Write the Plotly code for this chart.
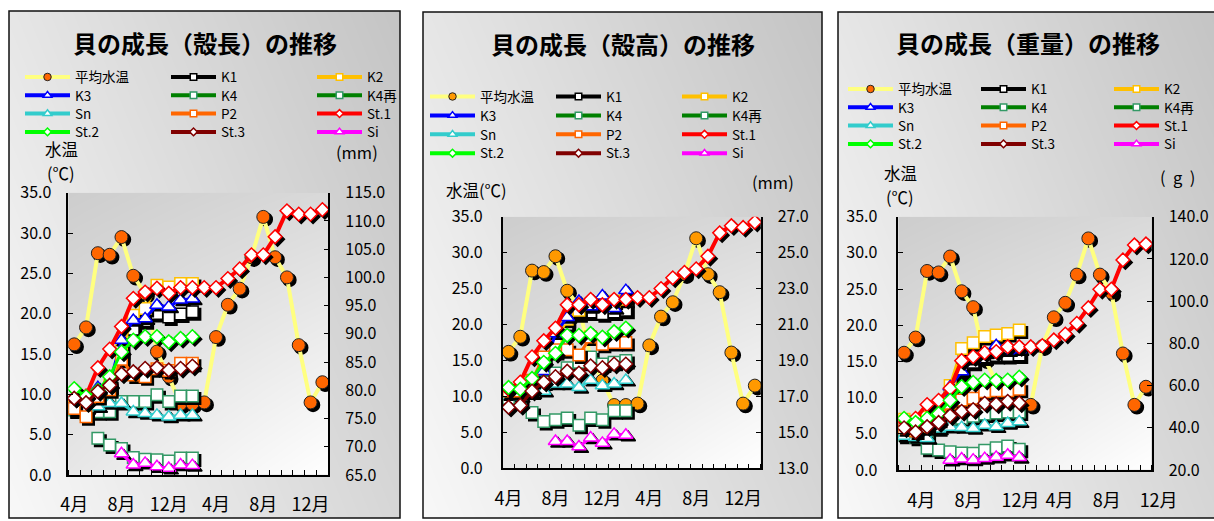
import numpy as np
import plotly.graph_objects as go

W, H = 1214, 521
FONT = "Noto Sans CJK JP"

# ---------------- data ----------------
month_idx = list(range(22))          # 4月 (1年目) ... 1月 (3年目)
x_tick_pos = [0, 4, 8, 12, 16, 20]
x_tick_text = ["4月", "8月", "12月", "4月", "8月", "12月"]
x_tick_pos_weight = [1.5, 5.6, 10.1, 13.5, 17.6, 22.1]

water_temp = [16.2, 18.3, 27.5, 27.3, 29.5, 24.7, 22.5, 15.3, 12.2, 8.8, 8.8,
              9.0, 17.1, 21.1, 23.1, 27.0, 32.0, 27.0, 24.5, 16.1, 9.0, 11.5]

# 殻長 (mm)
length_K1 = [77.0, 76.5, 78.5, 80.5, 86.0, 90.8, 92.3, 93.6, 93.0, 93.5, 93.9]
length_K2 = [77.5, 76.8, 79.2, 80.8, 87.0, 93.3, 94.5, 98.6, 98.3, 98.9, 98.9]
length_K3 = [77.8, 77.0, 80.5, 81.3, 88.9, 92.4, 92.7, 95.1, 94.8, 96.0, 96.2]
length_K4 = [76.5, 75.8, 76.2, 76.2, 78.0, 78.0, 78.0, 79.2, 78.0, 79.0, 79.0]
length_K4re = [None, None, 71.5, 70.3, 69.7, 68.1, 67.8, 67.7, 67.5, 68.0, 68.0]
length_Sn = [77.0, 76.8, 77.1, 77.7, 77.7, 76.2, 75.9, 75.6, 75.3, 75.6, 75.6]
length_P2 = [76.8, 75.3, 78.9, 80.1, 85.5, 82.7, 82.4, 83.8, 83.5, 84.8, 84.8]
length_St1 = [78.6, 79.0, 84.0, 87.3, 91.3, 96.3, 97.4, 98.1, 97.2, 98.2, 98.2,
              98.2, 98.2, 99.8, 101.5, 104.0, 104.0, 107.2, 111.8, 111.2, 111.2, 112.0]
length_St2 = [80.3, 78.9, 80.0, 82.4, 86.8, 88.9, 89.5, 89.5, 88.6, 89.2, 89.5]
length_St3 = [78.6, 77.8, 79.8, 80.9, 82.9, 83.3, 83.9, 84.0, 83.6, 83.9, 84.3]
length_Si = [None, None, None, None, 68.8, 66.8, 67.1, 66.5, 66.2, 66.8, 66.7]

# 殻高 (mm)
height_K1 = [16.8, 16.9, 17.6, 18.3, 19.5, 21.0, 21.6, 21.7, 21.6, 21.7, 21.8]
height_K2 = [17.0, 17.1, 17.8, 18.5, 20.0, 21.3, 21.8, 22.1, 22.2, 22.3, 22.4]
height_K3 = [17.0, 17.2, 17.8, 18.4, 20.5, 21.4, 22.3, 22.0, 22.6, 21.9, 22.9]
height_K4 = [16.9, 16.7, 17.3, 17.8, 18.3, 18.6, 18.9, 19.2, 18.8, 18.9, 19.0]
height_K4re = [None, None, 16.1, 15.6, 15.7, 15.8, 15.4, 15.8, 15.7, 16.2, 16.2]
height_Sn = [17.1, 17.0, 17.2, 17.3, 17.7, 17.7, 17.5, 17.9, 17.6, 17.7, 17.9]
height_P2 = [17.3, 17.3, 17.9, 19.2, 19.6, 19.6, 19.3, 20.3, 19.9, 20.0, 20.0]
height_St1 = [17.4, 17.8, 19.2, 20.1, 20.8, 22.1, 22.1, 22.4, 22.1, 22.4, 22.4,
              22.5, 22.5, 23.0, 23.6, 23.9, 24.1, 24.8, 26.1, 26.5, 26.4, 26.7]
height_St2 = [17.5, 17.4, 18.0, 18.9, 19.4, 20.4, 20.4, 20.5, 20.3, 20.6, 20.8]
height_St3 = [16.4, 16.5, 17.3, 17.8, 18.1, 18.4, 18.3, 18.7, 18.6, 18.8, 18.8]
height_Si = [None, None, None, None, 14.5, 14.5, 14.2, 14.7, 14.4, 14.9, 14.85]

# 重量 (g)
weight_K1 = [42.0, 41.5, 43.0, 46.0, 55.0, 66.0, 71.0, 73.5, 74.2, 74.2, 74.5]
weight_K2 = [44.0, 43.0, 45.0, 48.0, 60.0, 77.6, 80.3, 83.2, 84.0, 84.7, 86.3]
weight_K3 = [43.0, 42.0, 44.0, 47.0, 59.5, 66.6, 72.5, 75.5, 79.0, 76.5, 77.0]
weight_K4 = [36.5, 35.5, 37.0, 40.0, 43.0, 44.5, 45.5, 46.5, 47.0, 47.5, 47.5]
weight_K4re = [None, None, 30.3, 29.5, 28.7, 28.0, 27.9, 29.3, 30.5, 31.4, 29.8]
weight_Sn = [36.0, 35.5, 35.0, 39.5, 40.3, 40.2, 39.7, 41.3, 40.5, 42.1, 42.9]
weight_P2 = [40.0, 38.5, 40.5, 44.0, 51.6, 53.2, 54.0, 57.1, 57.6, 57.6, 58.2]
weight_St1 = [43.5, 44.5, 51.0, 53.0, 58.7, 71.8, 73.7, 75.6, 76.1, 78.4, 78.4,
              78.4, 78.9, 81.6, 84.4, 89.5, 96.9, 105.6, 105.7, 119.5, 126.6, 127.1]
weight_St2 = [44.5, 42.5, 44.5, 46.8, 53.0, 59.5, 61.5, 62.6, 62.4, 62.6, 64.0]
weight_St3 = [40.0, 38.0, 40.5, 42.5, 45.7, 47.8, 48.6, 51.6, 51.3, 52.5, 51.8]
weight_Si = [None, None, None, None, 24.7, 25.3, 24.8, 25.5, 26.1, 27.1, 26.0]

series_names = ["K1", "K2", "K3", "K4", "K4再", "Sn", "P2", "St.1", "St.2", "St.3", "Si"]
line_colors = ["#000000", "#ffc000", "#0000ff", "#008000", "#008000", "#33cccc",
               "#ff6600", "#ff0000", "#00ff00", "#800000", "#ff00ff"]
edge_colors = ["#000000", "#ffc000", "#0000ff", "#339966", "#339966", "#33cccc",
               "#ff6600", "#ff0000", "#00ff00", "#800000", "#ff00ff"]
symbols = ["square", "square", "triangle-up", "square", "square", "triangle-up",
           "square", "diamond", "diamond", "diamond", "triangle-up"]
plot_sizes = {"square": 11.5, "triangle-up": 12.5, "diamond": 10.5, "circle": 13}
legend_sizes = {"square": 6.5, "triangle-up": 7.5, "diamond": 6, "circle": 7.5}

length_data = [length_K1, length_K2, length_K3, length_K4, length_K4re, length_Sn,
               length_P2, length_St1, length_St2, length_St3, length_Si]
height_data = [height_K1, height_K2, height_K3, height_K4, height_K4re, height_Sn,
               height_P2, height_St1, height_St2, height_St3, height_Si]
weight_data = [weight_K1, weight_K2, weight_K3, weight_K4, weight_K4re, weight_Sn,
               weight_P2, weight_St1, weight_St2, weight_St3, weight_Si]

LEG_ITEMW = 45   # width of the legend symbol area
LEG_FONT = 13.5

# ---------------- panel geometry (pixels) ----------------
panels = [
    dict(title="貝の成長（殻長）の推移", data=length_data, temp_fill="#ff6600",
         box=(9, 11, 400, 518), area=(68.3, 192.7, 328.3, 475.0),
         rrange=(65, 115), rdtick=5, title_xy=(204.5, 43),
         legend_rows=[77.2, 95.5, 113.8, 132.1], text_x=75, col_gap=146,
         units=[("水温", 61, 149), ("(℃)", 61, 173), ("(mm)", 357, 152)],
         ls=(12, 12, 13)),
    dict(title="貝の成長（殻高）の推移", data=height_data, temp_fill="#ff9900",
         box=(423, 12, 822, 518), area=(502.7, 216.7, 760.7, 468.3),
         rrange=(13, 27), rdtick=2, title_xy=(623, 43.5),
         legend_rows=[96.7, 115.6, 134.5, 153.4], text_x=480, col_gap=126,
         units=[("水温(℃)", 476, 190), ("(mm)", 773, 182)],
         ls=(15, 12, 13)),
    dict(title="貝の成長（重量）の推移", data=weight_data, temp_fill="#ff6600",
         box=(838, 12, 1232, 518), area=(898.3, 216.7, 1151.7, 470.0),
         rrange=(20, 140), rdtick=20, title_xy=(1028, 42),
         legend_rows=[89.2, 107.5, 125.8, 144.1], text_x=898, col_gap=133,
         units=[("水温", 900, 173), ("(℃)", 900, 197),
                ("(\u00a0\u00a0g\u00a0\u00a0)", 1177, 177)],
         ls=(16, 12, 13)),
]

legend_order = [None, 0, 1, 2, 3, 4, 5, 6, 7, 8, 9, 10]   # None = 平均水温

fig = go.Figure()
layout = {}
annotations = []
shapes = []

GRAYS = [[0, "rgb(0,0,0)"], [1, "rgb(255,255,255)"]]
gx = np.linspace(0, 1, 40)
gy = np.linspace(0, 1, 40)
GX, GY = np.meshgrid(gx, gy)

for p, cfg in enumerate(panels):
    bx0, by0, bx1, by1 = cfg["box"]
    ax0, ay0, ax1, ay1 = cfg["area"]
    suf = "" if p == 0 else str(p + 1)

    # panel background gradient
    layout[f"xaxis{suf}"] = dict(domain=[bx0 / W, min(bx1 / W, 1.0)], range=[0, 1],
                                 visible=False, anchor=f"y{suf}", fixedrange=True)
    layout[f"yaxis{suf}"] = dict(domain=[1 - by1 / H, 1 - by0 / H], range=[0, 1],
                                 visible=False, anchor=f"x{suf}", fixedrange=True)
    fig.add_trace(go.Heatmap(x=gx, y=gy, z=248 - 34 * GX - 18 * GY,
                             colorscale=GRAYS, zmin=0, zmax=255, zsmooth="best",
                             showscale=False, hoverinfo="skip",
                             xaxis=f"x{suf}", yaxis=f"y{suf}"))
    shapes.append(dict(type="rect", xref="paper", yref="paper",
                       x0=bx0 / W, x1=bx1 / W, y0=1 - by1 / H, y1=1 - by0 / H,
                       line=dict(color="#111111", width=1.5), fillcolor="rgba(0,0,0,0)"))

    xa = f"x{p + 4}"
    yl = f"y{2 * p + 4}"
    yr = f"y{2 * p + 5}"
    rmin, rmax = cfg["rrange"]
    std_y, std_r, std_x = cfg["ls"]

    layout[f"xaxis{p + 4}"] = dict(
        domain=[ax0 / W, ax1 / W], anchor=yl, range=[-0.5, 21.5],
        showline=True, linecolor="black", linewidth=1.5, showgrid=False, zeroline=False,
        tickmode="array", tickvals=x_tick_pos, ticktext=x_tick_text, ticks="",
        showticklabels=(p != 2), ticklabelstandoff=std_x,
        tickfont=dict(family=FONT, size=18, color="black"),
        minor=dict(tick0=0.5, dtick=1, ticks="inside", ticklen=5, tickwidth=1.2,
                   tickcolor="black", showgrid=False),
        automargin=False, fixedrange=True)
    layout[f"yaxis{2 * p + 4}"] = dict(
        domain=[1 - ay1 / H, 1 - ay0 / H], anchor=xa, range=[0, 35], side="left",
        tickmode="linear", tick0=0, dtick=5, tickformat=".1f",
        ticks="inside", ticklen=5, tickwidth=1.2, tickcolor="black",
        showline=True, linecolor="black", linewidth=1.5, showgrid=False, zeroline=False,
        ticklabelstandoff=std_y, tickfont=dict(family=FONT, size=16, color="black"),
        automargin=False, fixedrange=True)
    layout[f"yaxis{2 * p + 5}"] = dict(
        overlaying=yl, anchor=xa, side="right", range=[rmin, rmax],
        tickmode="linear", tick0=rmin, dtick=cfg["rdtick"], tickformat=".1f",
        ticks="inside", ticklen=5, tickwidth=1.2, tickcolor="black",
        showline=True, linecolor="black", linewidth=1.5, showgrid=False, zeroline=False,
        ticklabelstandoff=std_r, tickfont=dict(family=FONT, size=16, color="black"),
        automargin=False, fixedrange=True)

    # plot-area gradient
    fig.add_trace(go.Heatmap(x=-0.5 + 22 * gx, y=35 * gy,
                             z=205 + 12 * GX + 26 * (1 - GY) + 12 * GX * (1 - GY),
                             colorscale=GRAYS, zmin=0, zmax=255, zsmooth="best",
                             showscale=False, hoverinfo="skip", xaxis=xa, yaxis=yl))

    # drop-shadow offsets (2.5 px right / down)
    px_cat = (ax1 - ax0) / 22.0
    dx = 2.5 / px_cat
    dy_l = 2.5 * 35.0 / (ay1 - ay0)
    dy_r = 2.5 * (rmax - rmin) / (ay1 - ay0)

    def shadow(xs, ys, dy, symbol, size, xaxis, yaxis):
        return go.Scatter(x=[v + dx for v in xs],
                          y=[None if v is None else v - dy for v in ys],
                          mode="markers", showlegend=False, hoverinfo="skip",
                          marker=dict(symbol=symbol, size=size, color="black",
                                      line=dict(color="black", width=1.5)),
                          xaxis=xaxis, yaxis=yaxis)

    # water temperature
    fig.add_trace(shadow(month_idx, water_temp, dy_l, "circle", plot_sizes["circle"], xa, yl))
    fig.add_trace(go.Scatter(x=month_idx, y=water_temp, mode="lines+markers",
                             name="平均水温", showlegend=False,
                             line=dict(color="#ffff80", width=4),
                             marker=dict(symbol="circle", size=plot_sizes["circle"],
                                         color=cfg["temp_fill"],
                                         line=dict(color="#222222", width=1)),
                             xaxis=xa, yaxis=yl))

    # shells
    for k, name in enumerate(series_names):
        vals = cfg["data"][k]
        xs = month_idx[:len(vals)]
        sz = plot_sizes[symbols[k]]
        fig.add_trace(shadow(xs, vals, dy_r, symbols[k], sz, xa, yr))
        fig.add_trace(go.Scatter(x=xs, y=vals, mode="lines+markers", name=name,
                                 showlegend=False, connectgaps=False,
                                 line=dict(color=line_colors[k], width=4 if name == "St.1" else 3),
                                 marker=dict(symbol=symbols[k], size=sz, color="white",
                                             line=dict(color=edge_colors[k], width=1.5)),
                                 xaxis=xa, yaxis=yr))

    # legend: one horizontal legend per row, three entries each
    lx = cfg["text_x"] - (LEG_ITEMW + 10)
    for r in range(4):
        lnum = p * 4 + r + 1
        lid = "legend" if lnum == 1 else f"legend{lnum}"
        layout[lid] = dict(orientation="h", x=lx / W, y=1 - cfg["legend_rows"][r] / H,
                           xanchor="left", yanchor="middle",
                           entrywidth=cfg["col_gap"] - (LEG_ITEMW + 15),
                           entrywidthmode="pixels", itemwidth=LEG_ITEMW,
                           bgcolor="rgba(0,0,0,0)", borderwidth=0,
                           font=dict(family=FONT, size=LEG_FONT, color="black"),
                           itemclick=False, itemdoubleclick=False, traceorder="normal")
        for c in range(3):
            idx = legend_order[r * 3 + c]
            if idx is None:
                ln = dict(color="#ffff80", width=4)
                mk = dict(symbol="circle", size=legend_sizes["circle"], color=cfg["temp_fill"],
                          line=dict(color="#222222", width=1))
                nm = "平均水温"
            else:
                ln = dict(color=line_colors[idx], width=4)
                mk = dict(symbol=symbols[idx], size=legend_sizes[symbols[idx]], color="white",
                          line=dict(color=edge_colors[idx], width=1.5))
                nm = series_names[idx]
            fig.add_trace(go.Scatter(x=[None], y=[None], mode="lines+markers", name=nm,
                                     line=ln, marker=mk, legend=lid, showlegend=True,
                                     hoverinfo="skip", xaxis=f"x{suf}", yaxis=f"y{suf}"))

    # title and unit captions
    tx, ty = cfg["title_xy"]
    annotations.append(dict(text=f"<b>{cfg['title']}</b>", x=tx / W, y=1 - ty / H,
                            xref="paper", yref="paper", showarrow=False,
                            xanchor="center", yanchor="middle",
                            font=dict(family=FONT, size=24, color="black")))
    for txt, ux, uy in cfg["units"]:
        annotations.append(dict(text=txt, x=ux / W, y=1 - uy / H, xref="paper", yref="paper",
                                showarrow=False, xanchor="center", yanchor="middle",
                                font=dict(family=FONT, size=16.5, color="black")))

# month labels of the weight chart sit on their own axis, which runs to the page edge
ax0, ay0, ax1, ay1 = panels[2]["area"]
px_cat3 = (ax1 - ax0) / 22.0
layout["xaxis7"] = dict(domain=[ax0 / W, 1.0], anchor="y8",
                        range=[-0.5, -0.5 + (W - ax0) / px_cat3],
                        showline=False, showgrid=False, zeroline=False, ticks="",
                        tickmode="array", tickvals=x_tick_pos_weight, ticktext=x_tick_text,
                        ticklabelstandoff=18, tickfont=dict(family=FONT, size=18, color="black"),
                        automargin=False, fixedrange=True)
fig.add_trace(go.Scatter(x=[None], y=[None], mode="markers", showlegend=False,
                         hoverinfo="skip", xaxis="x7", yaxis="y8"))

fig.update_layout(
    width=W, height=H, margin=dict(l=0, r=0, t=0, b=0, pad=0, autoexpand=False),
    paper_bgcolor="white", plot_bgcolor="rgba(0,0,0,0)",
    font=dict(family=FONT, color="black"),
    hovermode=False, annotations=annotations, shapes=shapes,
    **layout,
)

fig.write_html("out.html", config={"displayModeBar": False})
